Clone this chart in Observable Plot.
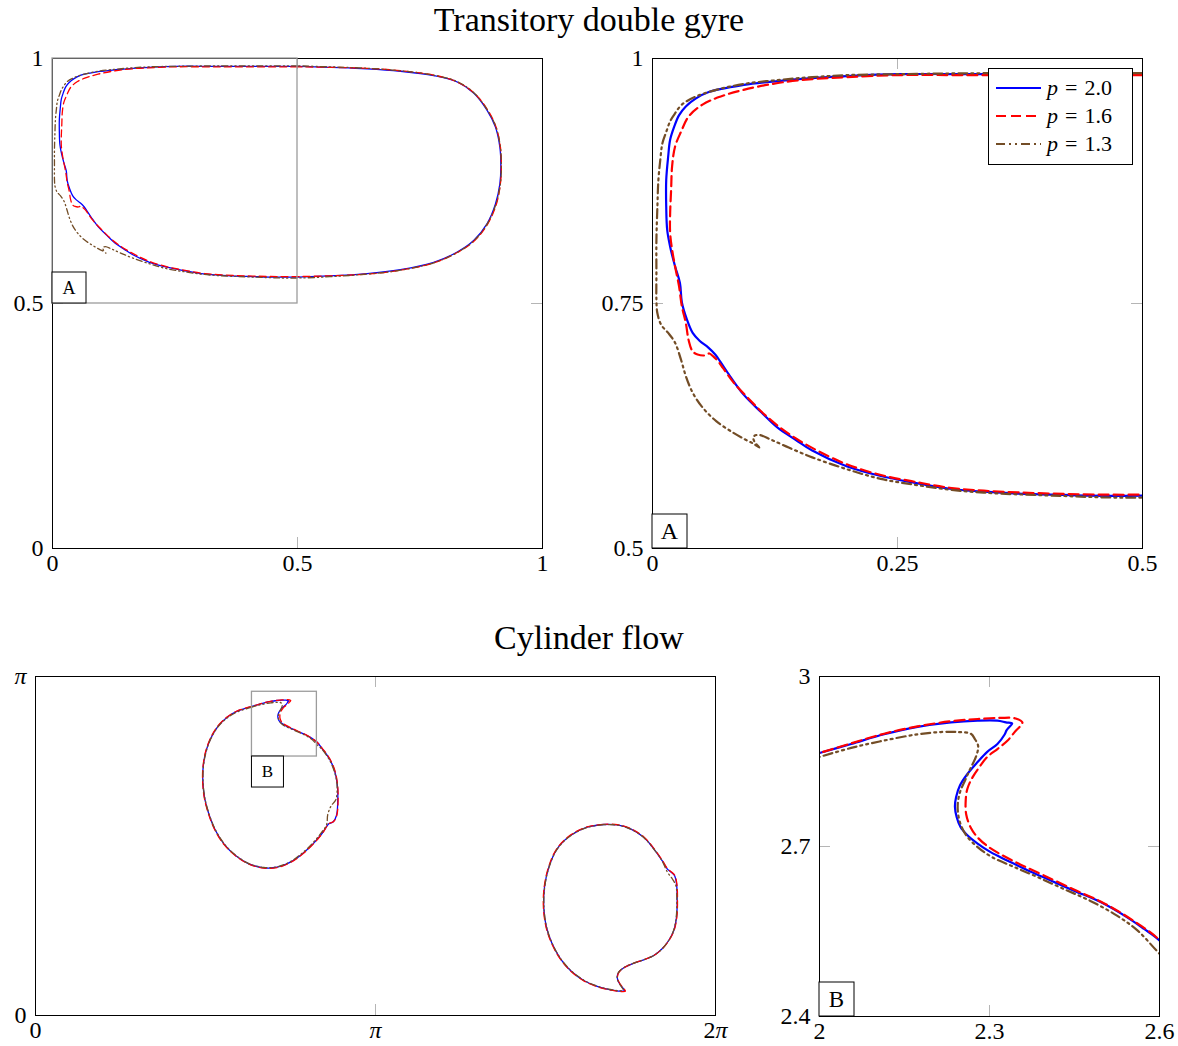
<!DOCTYPE html>
<html>
<head>
<meta charset="utf-8">
<script src="https://cdn.jsdelivr.net/npm/d3@7"></script>
<script src="https://cdn.jsdelivr.net/npm/@observablehq/plot@0.6"></script>
<style>
  body { margin: 0; background: #fff; font-family: "Liberation Serif", serif; color: #000; }
  #page { position: relative; width: 1178px; height: 1046px; overflow: hidden; }
  .title { position: absolute; left: 0; width: 1178px; text-align: center; font-size: 34px; line-height: 38px; }
  .panel { position: absolute; }
  .legend { position: absolute; background: #fff; border: 1px solid #000; box-sizing: border-box; padding: 5px 0 0 7px; font-size: 22px; }
  .legend .row { height: 28px; display: flex; align-items: center; white-space: nowrap; }
  .legend svg { margin-right: 6px; }
  .legend .eq { margin: 0 7px; }
</style>
</head>
<body>
<div id="page"></div>
<script>
// ---- Transitory double gyre: coherent set boundary for three values of p ----
const gyreP20 = [[0.500,0.984],[0.425,0.984],[0.338,0.984],[0.250,0.984],[0.198,0.982],[0.163,0.980],[0.128,0.977],[0.093,0.973],[0.058,0.966],[0.044,0.959],[0.034,0.951],[0.027,0.942],[0.022,0.930],[0.018,0.917],[0.016,0.900],[0.014,0.876],[0.014,0.849],[0.015,0.825],[0.018,0.808],[0.023,0.788],[0.028,0.771],[0.030,0.751],[0.035,0.734],[0.041,0.720],[0.048,0.712],[0.057,0.705],[0.064,0.698],[0.069,0.691],[0.079,0.676],[0.093,0.657],[0.111,0.639],[0.128,0.623],[0.146,0.611],[0.163,0.600],[0.198,0.584],[0.233,0.574],[0.268,0.567],[0.303,0.561],[0.338,0.558],[0.373,0.556],[0.408,0.555],[0.442,0.554],[0.500,0.554],[0.642,0.561],[0.710,0.569],[0.778,0.584],[0.826,0.605],[0.860,0.629],[0.887,0.663],[0.904,0.703],[0.913,0.744],[0.915,0.778],[0.913,0.819],[0.904,0.860],[0.887,0.894],[0.860,0.929],[0.826,0.952],[0.778,0.965],[0.710,0.974],[0.642,0.979],[0.500,0.984]];
const gyreP16 = [[0.500,0.983],[0.338,0.983],[0.250,0.983],[0.198,0.981],[0.163,0.979],[0.128,0.975],[0.093,0.968],[0.069,0.961],[0.051,0.953],[0.037,0.941],[0.029,0.925],[0.023,0.910],[0.020,0.890],[0.019,0.866],[0.018,0.842],[0.018,0.822],[0.020,0.805],[0.023,0.788],[0.027,0.768],[0.030,0.747],[0.034,0.730],[0.037,0.712],[0.041,0.701],[0.046,0.698],[0.053,0.697],[0.058,0.699],[0.062,0.696],[0.067,0.691],[0.072,0.684],[0.083,0.669],[0.097,0.654],[0.114,0.637],[0.132,0.622],[0.150,0.610],[0.170,0.599],[0.198,0.586],[0.233,0.575],[0.268,0.568],[0.303,0.562],[0.338,0.559],[0.408,0.556],[0.500,0.555],[0.642,0.560],[0.710,0.568],[0.778,0.583],[0.826,0.604],[0.861,0.628],[0.888,0.662],[0.906,0.703],[0.914,0.744],[0.916,0.778],[0.914,0.820],[0.905,0.861],[0.888,0.895],[0.861,0.929],[0.826,0.952],[0.778,0.966],[0.710,0.975],[0.642,0.980],[0.500,0.983]];
const gyreP13 = [[0.500,0.985],[0.338,0.985],[0.250,0.984],[0.198,0.983],[0.163,0.981],[0.128,0.978],[0.093,0.974],[0.065,0.968],[0.044,0.961],[0.030,0.953],[0.023,0.944],[0.018,0.936],[0.014,0.925],[0.010,0.913],[0.008,0.897],[0.006,0.876],[0.005,0.849],[0.004,0.815],[0.004,0.781],[0.004,0.754],[0.005,0.740],[0.009,0.728],[0.016,0.720],[0.023,0.710],[0.029,0.693],[0.034,0.676],[0.041,0.659],[0.051,0.644],[0.065,0.630],[0.081,0.619],[0.095,0.611],[0.103,0.607],[0.109,0.603],[0.104,0.609],[0.103,0.614],[0.108,0.616],[0.121,0.611],[0.139,0.603],[0.163,0.593],[0.198,0.581],[0.233,0.571],[0.268,0.565],[0.303,0.560],[0.338,0.557],[0.408,0.554],[0.500,0.552],[0.642,0.560],[0.710,0.568],[0.778,0.583],[0.826,0.604],[0.860,0.628],[0.887,0.662],[0.905,0.703],[0.914,0.744],[0.916,0.778],[0.914,0.819],[0.905,0.860],[0.888,0.894],[0.861,0.929],[0.826,0.953],[0.778,0.966],[0.710,0.975],[0.642,0.980],[0.500,0.985]];

// ---- Cylinder flow: two coherent vortices (left loop, right loop) ----
const cylLeftP20 = [[2.000,2.865],[1.864,2.820],[1.771,2.764],[1.684,2.678],[1.617,2.564],[1.573,2.440],[1.549,2.301],[1.546,2.178],[1.561,2.023],[1.601,1.869],[1.663,1.714],[1.746,1.584],[1.848,1.483],[1.971,1.406],[2.109,1.369],[2.233,1.374],[2.356,1.421],[2.473,1.504],[2.571,1.597],[2.649,1.689],[2.710,1.776],[2.751,1.795],[2.781,1.853],[2.793,1.992],[2.788,2.147],[2.763,2.270],[2.716,2.379],[2.649,2.472],[2.600,2.534],[2.572,2.555],[2.543,2.575],[2.496,2.602],[2.449,2.622],[2.408,2.640],[2.367,2.658],[2.332,2.675],[2.302,2.690],[2.279,2.705],[2.261,2.720],[2.249,2.734],[2.242,2.752],[2.239,2.770],[2.241,2.787],[2.248,2.808],[2.261,2.828],[2.279,2.849],[2.296,2.867],[2.314,2.881],[2.327,2.898],[2.330,2.905],[2.335,2.911],[2.340,2.917],[2.329,2.919],[2.314,2.922],[2.279,2.922],[2.232,2.919],[2.173,2.911],[2.114,2.898],[2.056,2.881],[2.000,2.865]];
const cylLeftP16 = [[2.000,2.865],[1.862,2.822],[1.770,2.766],[1.682,2.680],[1.615,2.566],[1.571,2.442],[1.547,2.300],[1.544,2.176],[1.559,2.021],[1.599,1.867],[1.661,1.712],[1.745,1.581],[1.848,1.480],[1.972,1.403],[2.110,1.366],[2.235,1.372],[2.358,1.419],[2.476,1.503],[2.574,1.597],[2.652,1.690],[2.712,1.778],[2.754,1.797],[2.784,1.856],[2.796,1.994],[2.790,2.150],[2.765,2.273],[2.718,2.382],[2.651,2.474],[2.600,2.535],[2.543,2.576],[2.496,2.603],[2.449,2.624],[2.396,2.649],[2.355,2.668],[2.320,2.686],[2.296,2.701],[2.279,2.716],[2.267,2.733],[2.259,2.756],[2.258,2.781],[2.261,2.802],[2.270,2.822],[2.282,2.840],[2.296,2.858],[2.314,2.872],[2.332,2.887],[2.346,2.904],[2.354,2.912],[2.358,2.919],[2.346,2.926],[2.320,2.927],[2.279,2.925],[2.232,2.921],[2.173,2.912],[2.114,2.899],[2.056,2.882],[2.000,2.865]];
const cylLeftP13 = [[2.000,2.858],[1.868,2.815],[1.774,2.760],[1.686,2.675],[1.619,2.562],[1.575,2.438],[1.551,2.300],[1.548,2.178],[1.563,2.025],[1.603,1.870],[1.665,1.716],[1.748,1.586],[1.850,1.485],[1.972,1.408],[2.109,1.372],[2.232,1.378],[2.353,1.425],[2.468,1.508],[2.563,1.600],[2.640,1.692],[2.690,1.770],[2.700,1.860],[2.730,1.940],[2.775,2.000],[2.786,2.140],[2.760,2.265],[2.712,2.375],[2.646,2.468],[2.600,2.511],[2.561,2.552],[2.525,2.578],[2.478,2.604],[2.431,2.625],[2.385,2.646],[2.343,2.664],[2.305,2.681],[2.279,2.699],[2.261,2.717],[2.251,2.734],[2.245,2.755],[2.244,2.775],[2.248,2.796],[2.257,2.817],[2.266,2.837],[2.276,2.858],[2.280,2.877],[2.274,2.890],[2.267,2.899],[2.244,2.902],[2.214,2.902],[2.173,2.898],[2.114,2.887],[2.056,2.874],[2.000,2.858]];
const cylRightP20 = [[5.251,1.770],[5.097,1.745],[4.943,1.668],[4.820,1.545],[4.743,1.374],[4.703,1.189],[4.696,1.004],[4.721,0.818],[4.774,0.664],[4.851,0.525],[4.943,0.417],[5.066,0.324],[5.190,0.269],[5.313,0.238],[5.405,0.225],[5.442,0.232],[5.421,0.262],[5.389,0.309],[5.375,0.355],[5.389,0.401],[5.436,0.442],[5.513,0.479],[5.620,0.516],[5.713,0.556],[5.790,0.618],[5.851,0.695],[5.898,0.788],[5.923,0.911],[5.929,1.066],[5.923,1.220],[5.904,1.297],[5.874,1.328],[5.837,1.359],[5.790,1.436],[5.713,1.545],[5.620,1.652],[5.498,1.730],[5.375,1.767],[5.251,1.770]];
const cylRightP16 = [[5.251,1.772],[5.095,1.747],[4.940,1.670],[4.817,1.546],[4.740,1.374],[4.700,1.188],[4.693,1.003],[4.718,0.817],[4.772,0.662],[4.850,0.522],[4.943,0.414],[5.067,0.321],[5.192,0.266],[5.316,0.235],[5.410,0.222],[5.451,0.225],[5.426,0.260],[5.392,0.308],[5.378,0.355],[5.392,0.402],[5.440,0.444],[5.516,0.481],[5.623,0.518],[5.716,0.558],[5.793,0.620],[5.854,0.697],[5.901,0.790],[5.926,0.912],[5.932,1.066],[5.926,1.222],[5.907,1.299],[5.876,1.330],[5.839,1.362],[5.792,1.438],[5.715,1.547],[5.621,1.655],[5.498,1.733],[5.375,1.769],[5.251,1.772]];
const cylRightP13 = [[5.251,1.768],[5.098,1.743],[4.945,1.666],[4.822,1.544],[4.745,1.373],[4.705,1.189],[4.698,1.004],[4.723,0.819],[4.776,0.665],[4.853,0.527],[4.945,0.419],[5.067,0.327],[5.190,0.272],[5.312,0.241],[5.400,0.229],[5.430,0.236],[5.415,0.265],[5.386,0.311],[5.374,0.356],[5.388,0.402],[5.433,0.442],[5.510,0.478],[5.617,0.515],[5.710,0.554],[5.787,0.615],[5.848,0.692],[5.895,0.786],[5.920,0.910],[5.926,1.066],[5.918,1.200],[5.885,1.265],[5.838,1.330],[5.788,1.436],[5.711,1.545],[5.618,1.651],[5.497,1.728],[5.375,1.765],[5.251,1.768]];

// ---- Ticks, tick labels, zoom regions ----
const seriesNames = ["p = 2.0", "p = 1.6", "p = 1.3"];
const gyreTicks = [0, 0.5, 1];
const gyreTickLabels = ["0", "0.5", "1"];
const gyreZoomTicksX = [0, 0.25, 0.5];
const gyreZoomLabelsX = ["0", "0.25", "0.5"];
const gyreZoomTicksY = [0.5, 0.75, 1];
const gyreZoomLabelsY = ["0.5", "0.75", "1"];
const cylTicksX = [0, Math.PI, 2 * Math.PI];
const cylLabelsX = ["0", "π", "2π"];
const cylTicksY = [0, Math.PI];
const cylLabelsY = ["0", "π"];
const cylZoomTicksX = [2, 2.3, 2.6];
const cylZoomLabelsX = ["2", "2.3", "2.6"];
const cylZoomTicksY = [2.4, 2.7, 3];
const cylZoomLabelsY = ["2.4", "2.7", "3"];
const gyreRegion = [{x1: 0, x2: 0.5, y1: 0.5, y2: 1, tag: "A"}];
const cylRegion = [{x1: 2, x2: 2.6, y1: 2.4, y2: 3, tag: "B"}];

// line appearance per series (thin for overview panels, thick for zooms)
const seriesStyle = [
  {color: "#0000ff", thin: null, thick: null},
  {color: "#ff0000", thin: "7,4", thick: "10,5"},
  {color: "#734d26", thin: "6,3,1.2,3,1.2,3", thick: "9,4,2,4,2,4"}
];

function rows(name, loops) {
  return loops.flatMap((pts, li) => pts.map(([x, y]) => ({series: name, loop: name + "-" + li, x, y})));
}
const gyreData = [rows(seriesNames[0], [gyreP20]), rows(seriesNames[1], [gyreP16]), rows(seriesNames[2], [gyreP13])];
const cylData = [
  rows(seriesNames[0], [cylLeftP20, cylRightP20]),
  rows(seriesNames[1], [cylLeftP16, cylRightP16]),
  rows(seriesNames[2], [cylLeftP13, cylRightP13])
];

const page = document.getElementById("page");
const tickFont = 24;

function addTitle(text, top) {
  const d = document.createElement("div");
  d.className = "title";
  d.style.top = top + "px";
  d.textContent = text;
  page.appendChild(d);
}

function lookup(ticks, labels) {
  return d => labels[ticks.findIndex(t => Math.abs(t - d) < 1e-9)];
}

function panel(o) {
  const m = o.margin;
  const fw = o.width - m.left - m.right, fh = o.height - m.top - m.bottom;
  const tick = 11, tickColor = "#b5b5b5";
  const marks = [
    Plot.tickX(o.xInner, {x: d => d, stroke: tickColor, insetTop: fh - tick}),
    Plot.tickX(o.xInner, {x: d => d, stroke: tickColor, insetBottom: fh - tick}),
    Plot.tickY(o.yInner, {y: d => d, stroke: tickColor, insetRight: fw - tick}),
    Plot.tickY(o.yInner, {y: d => d, stroke: tickColor, insetLeft: fw - tick})
  ];
  o.data.forEach((d, i) => {
    const s = seriesStyle[i];
    marks.push(Plot.line(d, {
      x: "x", y: "y", z: "loop", stroke: s.color,
      strokeWidth: o.thick ? 2.2 : 1.3,
      strokeDasharray: o.thick ? s.thick : s.thin,
      curve: "catmull-rom", clip: true
    }));
  });
  marks.push(Plot.frame({stroke: "#000", strokeWidth: 1}));
  if (o.region) marks.push(Plot.rect(o.region, {x1: "x1", x2: "x2", y1: "y1", y2: "y2", fill: "none", stroke: "#9c9c9c", strokeWidth: 1.3}));
  marks.push(Plot.axisX({ticks: o.xTicks, tickSize: 0, tickPadding: 5, tickFormat: o.xFormat, label: null, fontSize: tickFont}));
  marks.push(Plot.axisY({ticks: o.yTicks, tickSize: 0, tickPadding: 9, tickFormat: o.yFormat, label: null, fontSize: tickFont}));

  const plot = Plot.plot({
    width: o.width, height: o.height,
    marginTop: m.top, marginRight: m.right, marginBottom: m.bottom, marginLeft: m.left,
    x: {domain: o.xDomain, label: null},
    y: {domain: o.yDomain, label: null},
    style: {fontFamily: "Liberation Serif, serif", fontSize: tickFont + "px", color: "#000", background: "transparent", overflow: "visible"},
    marks
  });

  // tag box (A / B) anchored at the zoom region corner
  const xs = plot.scale("x"), ys = plot.scale("y");
  const t = o.tagBox;
  const px = xs.apply(t.x), py = ys.apply(t.y);
  const top = t.below ? py : py - t.h;
  const g = d3.select(plot).append("g");
  g.append("rect").attr("x", px).attr("y", top).attr("width", t.w).attr("height", t.h)
    .attr("fill", "#fff").attr("stroke", "#000").attr("stroke-width", 1);
  g.append("text").attr("x", px + t.w / 2).attr("y", top + t.h / 2).attr("dy", "0.35em")
    .attr("text-anchor", "middle").attr("font-size", t.size).text(t.label);

  // italic π in tick labels
  d3.select(plot).selectAll("text").each(function () {
    const s = this.textContent;
    if (!s.includes("π")) return;
    const el = d3.select(this);
    el.text(null);
    for (const ch of s) el.append("tspan").attr("font-style", ch === "π" ? "italic" : null).text(ch);
  });

  const div = document.createElement("div");
  div.className = "panel";
  div.style.left = o.left + "px";
  div.style.top = o.top + "px";
  div.appendChild(plot);
  page.appendChild(div);
}

addTitle("Transitory double gyre", 1);

panel({
  left: 0, top: 40, width: 562, height: 553,
  margin: {top: 18, right: 20, bottom: 45, left: 52},
  xDomain: [0, 1], yDomain: [0, 1],
  xTicks: gyreTicks, yTicks: gyreTicks,
  xFormat: lookup(gyreTicks, gyreTickLabels), yFormat: lookup(gyreTicks, gyreTickLabels),
  xInner: [0.5], yInner: [0.5],
  data: gyreData, thick: false, region: gyreRegion,
  tagBox: {x: gyreRegion[0].x1, y: gyreRegion[0].y1, w: 34, h: 31, size: 18, label: gyreRegion[0].tag, below: false}
});

panel({
  left: 590, top: 40, width: 582, height: 553,
  margin: {top: 18, right: 30, bottom: 45, left: 62},
  xDomain: [0, 0.5], yDomain: [0.5, 1],
  xTicks: gyreZoomTicksX, yTicks: gyreZoomTicksY,
  xFormat: lookup(gyreZoomTicksX, gyreZoomLabelsX), yFormat: lookup(gyreZoomTicksY, gyreZoomLabelsY),
  xInner: [0.25], yInner: [0.75],
  data: gyreData, thick: true, region: null,
  tagBox: {x: gyreRegion[0].x1, y: gyreRegion[0].y1, w: 35, h: 34, size: 24, label: gyreRegion[0].tag, below: false}
});

// legend for the zoomed double-gyre panel
(function () {
  const lg = document.createElement("div");
  lg.className = "legend";
  Object.assign(lg.style, {left: "988px", top: "68px", width: "145px", height: "97px"});
  seriesNames.forEach((name, i) => {
    const s = seriesStyle[i];
    const row = document.createElement("div");
    row.className = "row";
    const dash = s.thick ? `stroke-dasharray="${s.thick}"` : "";
    row.innerHTML = `<svg width="45" height="10"><line x1="0" y1="5" x2="45" y2="5" stroke="${s.color}" stroke-width="2.2" ${dash}/></svg>` +
      `<span><i>p</i><span class="eq">=</span>${name.split("= ")[1]}</span>`;
    lg.appendChild(row);
  });
  page.appendChild(lg);
})();

addTitle("Cylinder flow", 619);

panel({
  left: 0, top: 660, width: 740, height: 395,
  margin: {top: 16, right: 25, bottom: 40, left: 35},
  xDomain: [0, 2 * Math.PI], yDomain: [0, Math.PI],
  xTicks: cylTicksX, yTicks: cylTicksY,
  xFormat: lookup(cylTicksX, cylLabelsX), yFormat: lookup(cylTicksY, cylLabelsY),
  xInner: [Math.PI], yInner: [],
  data: cylData, thick: false, region: cylRegion,
  tagBox: {x: cylRegion[0].x1, y: cylRegion[0].y1, w: 32, h: 31, size: 17, label: cylRegion[0].tag, below: true}
});

panel({
  left: 760, top: 660, width: 418, height: 386,
  margin: {top: 16, right: 19, bottom: 30, left: 59},
  xDomain: [2, 2.6], yDomain: [2.4, 3],
  xTicks: cylZoomTicksX, yTicks: cylZoomTicksY,
  xFormat: lookup(cylZoomTicksX, cylZoomLabelsX), yFormat: lookup(cylZoomTicksY, cylZoomLabelsY),
  xInner: [2.3], yInner: [2.7],
  data: cylData, thick: true, region: null,
  tagBox: {x: cylRegion[0].x1, y: cylRegion[0].y1, w: 35, h: 34, size: 23, label: cylRegion[0].tag, below: false}
});
</script>
</body>
</html>
